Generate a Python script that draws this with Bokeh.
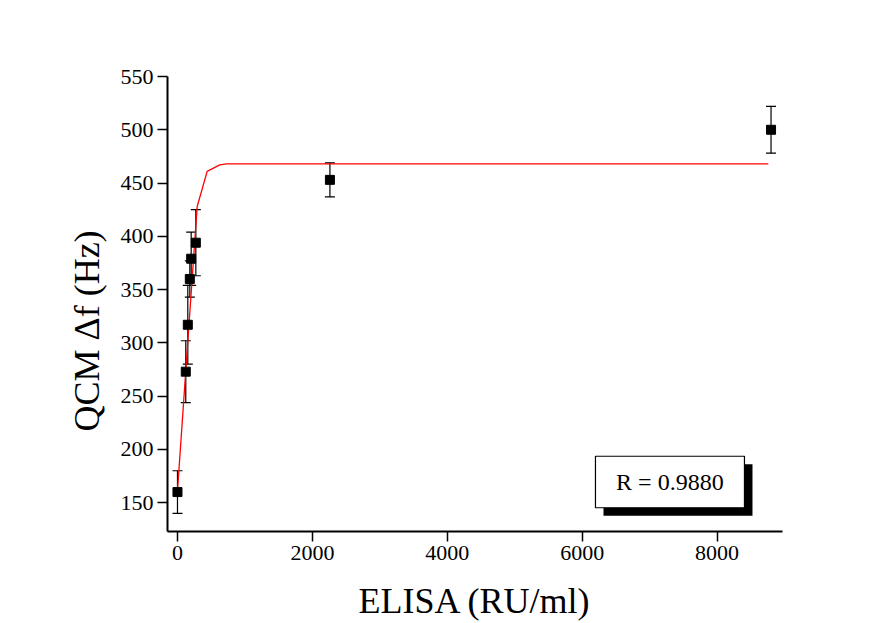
from bokeh.plotting import figure
from bokeh.models import (ColumnDataSource, Whisker, TeeHead, FixedTicker,
                          Range1d, BoxAnnotation, Label, Title)
from bokeh.embed import file_html
from bokeh.resources import INLINE

# ELISA concentration (RU/ml) vs QCM frequency shift (Hz)
elisa = [0, 123, 153, 183, 203, 272, 2260, 8800]
qcm_df = [160, 273, 317, 360, 379, 394, 453, 500]
qcm_err = [20, 29, 37, 17, 25, 31, 16, 22]

# fitted calibration curve (as plotted)
fit_x = [0, 146, 292, 440, 627, 726, 8760]
fit_y = [161, 295, 428, 461, 467, 468, 468]

x_ticks = [0, 2000, 4000, 6000, 8000]
y_ticks = [150, 200, 250, 300, 350, 400, 450, 500, 550]
r_text = "R = 0.9880"

SERIF = "Liberation Serif"

src = ColumnDataSource(dict(
    x=elisa, y=qcm_df,
    lo=[v - e for v, e in zip(qcm_df, qcm_err)],
    hi=[v + e for v, e in zip(qcm_df, qcm_err)],
))

p = figure(width=889, height=623, output_backend="svg", toolbar_location=None,
           x_range=Range1d(-148, 8970), y_range=Range1d(123, 550),
           min_border_left=167, min_border_right=107,
           min_border_top=76, min_border_bottom=89)
p.background_fill_color = "white"
p.border_fill_color = "white"
p.outline_line_color = None
p.grid.visible = False

# fit curve
p.line(fit_x, fit_y, line_color="#ff0000", line_width=1.3)

# error bars
p.add_layout(Whisker(source=src, base="x", lower="lo", upper="hi",
                     line_color="black", line_width=1.2,
                     upper_head=TeeHead(size=10, line_color="black", line_width=1.2),
                     lower_head=TeeHead(size=10, line_color="black", line_width=1.2)))

# measured points
p.scatter("x", "y", source=src, marker="square", size=9,
          fill_color="black", line_color="black")

# axes
for ax in (p.xaxis[0], p.yaxis[0]):
    ax.axis_line_width = 2
    ax.axis_line_color = "black"
    ax.major_tick_line_width = 1.5
    ax.major_tick_line_color = "black"
    ax.major_tick_out = 10
    ax.major_tick_in = 0
    ax.minor_tick_line_color = None
    ax.major_label_text_font = SERIF
    ax.major_label_text_font_size = "22px"
    ax.major_label_text_color = "black"
    ax.major_label_standoff = 4

p.xaxis.ticker = FixedTicker(ticks=x_ticks)
p.yaxis.ticker = FixedTicker(ticks=y_ticks)

p.xaxis.axis_label = "ELISA (RU/ml)"
p.xaxis.axis_label_text_font = SERIF
p.xaxis.axis_label_text_font_size = "36px"
p.xaxis.axis_label_text_font_style = "normal"
p.xaxis.axis_label_text_color = "black"
p.xaxis.axis_label_standoff = 18

# y title, set a little below the frame centre
p.add_layout(Title(text="QCM \u0394f (Hz)", align="left", offset=100,
                   text_font=SERIF, text_font_size="36px",
                   text_font_style="normal", text_color="black",
                   standoff=22), "left")

# correlation box with drop shadow
p.add_layout(BoxAnnotation(left=6316, right=8525, bottom=137.8, top=186.1,
                           fill_color="black", fill_alpha=1.0, line_color=None))
p.add_layout(BoxAnnotation(left=6197, right=8406, bottom=145.3, top=193.6,
                           fill_color="white", fill_alpha=1.0,
                           line_color="black", line_width=1.2, line_alpha=1.0))
p.add_layout(Label(x=7300, y=169.5, text=r_text, text_align="center",
                   text_baseline="middle", text_font=SERIF,
                   text_font_size="24px", text_color="black"))

open("out.html", "w").write(file_html(p, INLINE))
